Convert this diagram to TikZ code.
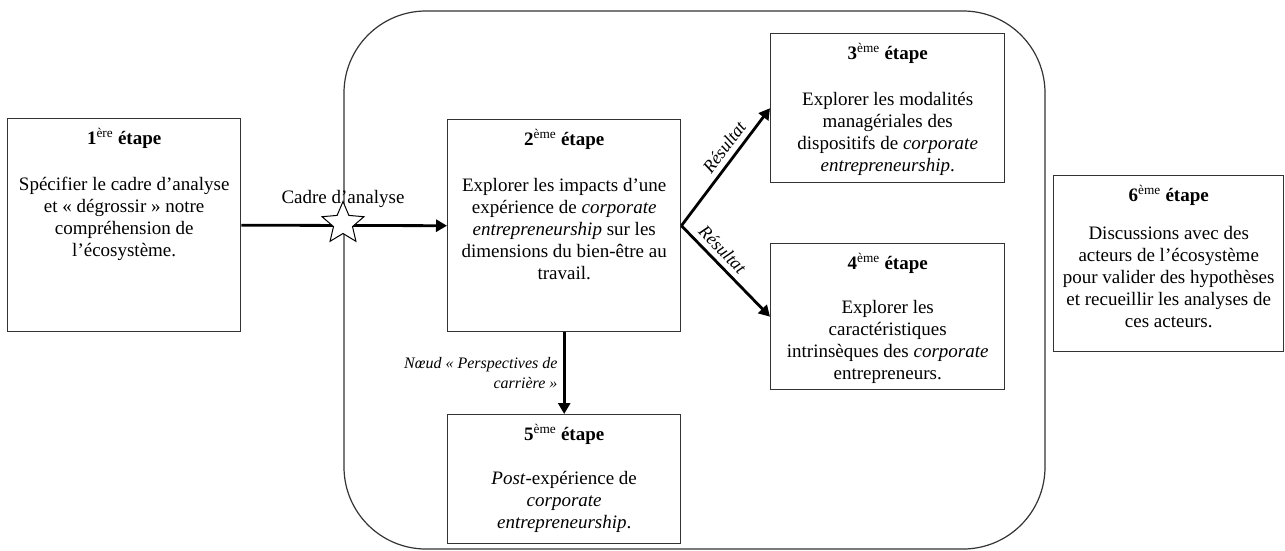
\documentclass[tikz,border=0pt]{standalone}
\usepackage{fontspec}
\setmainfont{Liberation Serif}
\usetikzlibrary{arrows.meta,shapes.geometric}
\newcommand{\etapetxt}[5]{\parbox[c][#2][t]{#1}{\centering\vspace*{10pt}\textbf{#3 étape}\strut\\[#4]#5}}
\begin{document}
\begin{tikzpicture}[x=1pt,y=-1pt,font=\fontsize{19}{22}\selectfont,
  etape/.style={draw=black!80, line width=1.4pt, inner sep=0pt, anchor=north west},
  fleche/.style={-{Triangle[length=11pt,width=12pt]}, line width=2.8pt},
  petit/.style={font=\fontsize{16}{20}\selectfont\itshape}]
\useasboundingbox (0,0) rectangle (1285,550);
\draw[draw=black!80, line width=1.2pt, rounded corners=82pt] (344,11) rectangle (1045,549);
\begin{scope}
\path (7,118) node[etape] (e1) {\etapetxt{233pt}{213pt}{1\textsuperscript{\mdseries ère}}{24pt}{Spécifier le cadre d’analyse\\ et « dégrossir » notre\\ compréhension de\\ l’écosystème.}};
\path (447,119) node[etape] (e2) {\etapetxt{233pt}{212pt}{2\textsuperscript{\mdseries ème}}{24pt}{Explorer les impacts d’une\\ expérience de \textit{corporate}\\ \textit{entrepreneurship} sur les\\ dimensions du bien-être au\\ travail.}};
\path (770,33) node[etape] (e3) {\etapetxt{234pt}{149pt}{3\textsuperscript{\mdseries ème}}{24pt}{Explorer les modalités\\ managériales des\\ dispositifs de \textit{corporate}\\ \textit{entrepreneurship}.}};
\path (770,243) node[etape] (e4) {\etapetxt{234pt}{146pt}{4\textsuperscript{\mdseries ème}}{22pt}{Explorer les\\ caractéristiques\\ intrinsèques des \textit{corporate}\\ entrepreneurs.}};
\path (447,414) node[etape] (e5) {\etapetxt{233pt}{129pt}{5\textsuperscript{\mdseries ème}}{22pt}{\textit{Post}-expérience de\\ \textit{corporate}\\ \textit{entrepreneurship}.}};
\path (1053,175) node[etape] (e6) {\etapetxt{230pt}{176pt}{6\textsuperscript{\mdseries ème}}{16pt}{Discussions avec des\\ acteurs de l’écosystème\\ pour valider des hypothèses\\ et recueillir les analyses de\\ ces acteurs.}};
\end{scope}
\draw[fleche] (e1.east) -- (e2.west);
\path (343,223.5) node[star, star points=5, star point ratio=2.2, draw, fill=white, line width=1pt, minimum size=44pt, inner sep=0pt] (etoile) {};
\path (343,199) node (cadre) {Cadre d’analyse};
\draw[fleche] (e2.east) -- node[petit, pos=0.6, above=2pt, sloped, font=\fontsize{18}{20}\selectfont\itshape] (res3) {Résultat} (e3.west);
\draw[fleche] (e2.east) -- node[petit, pos=0.36, above=2pt, sloped, font=\fontsize{18}{20}\selectfont\itshape] (res4) {Résultat} (e4.west);
\draw[fleche] (e2.south) -- node[petit, left=2pt, align=right] (noeud) {Nœud « Perspectives de\\ carrière »} (e5.north);
\end{tikzpicture}
\end{document}
